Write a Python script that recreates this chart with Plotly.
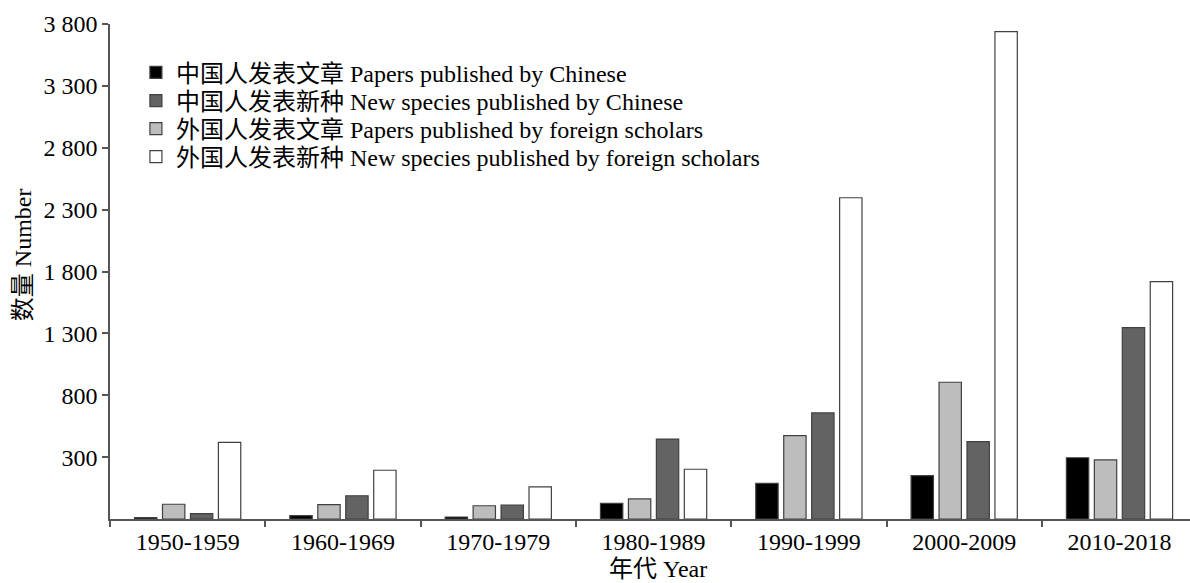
import plotly.graph_objects as go

# Data (bar heights above the axis baseline)
decades = ["1950-1959", "1960-1969", "1970-1979", "1980-1989", "1990-1999", "2000-2009", "2010-2018"]
cn_papers = [11, 27, 16, 127, 288, 350, 495]
foreign_papers = [119, 116, 107, 162, 673, 1105, 477]
cn_species = [43, 188, 113, 646, 857, 625, 1546]
foreign_species = [620, 394, 259, 402, 2596, 3938, 1918]

names = {
    "cn_papers": "中国人发表文章 Papers published by Chinese",
    "cn_species": "中国人发表新种 New species published by Chinese",
    "foreign_papers": "外国人发表文章 Papers published by foreign scholars",
    "foreign_species": "外国人发表新种 New species published by foreign scholars",
}

y_tickvals = [300, 800, 1300, 1800, 2300, 2800, 3300, 3800]
y_ticktext = ["300", "800", "1 300", "1 800", "2 300", "2 800", "3 300", "3 800"]
axis_base = -200

FONT = "Liberation Serif, Noto Sans CJK SC, serif"
FS = 24
LINE = "#555555"
OUT = "#404040"

series = [
    ("cn_papers", cn_papers, "#000000", "legend"),
    ("foreign_papers", foreign_papers, "#bdbdbd", "legend3"),
    ("cn_species", cn_species, "#636363", "legend2"),
    ("foreign_species", foreign_species, "#ffffff", "legend4"),
]

fig = go.Figure()
for key, vals, color, lg in series:
    fig.add_trace(go.Bar(
        x=decades, y=vals, base=axis_base, name=names[key],
        marker=dict(color=color, line=dict(color=OUT, width=1.2)),
        legend=lg,
    ))

leg_x = 0.024
leg_rows = {"legend": 0.9016, "legend2": 0.8444, "legend3": 0.7879, "legend4": 0.7313}
leg_common = dict(x=leg_x, xanchor="left", yanchor="middle", bgcolor="rgba(0,0,0,0)",
                  font=dict(family=FONT, size=FS, color="#000"))

fig.update_layout(
    width=1190, height=583,
    margin=dict(l=110, r=0, t=24, b=64),
    plot_bgcolor="white", paper_bgcolor="white",
    font=dict(family=FONT, size=FS, color="#000"),
    barmode="group", bargap=0.28, bargroupgap=0.2,
    showlegend=True,
    legend=dict(y=leg_rows["legend"], **leg_common),
    legend2=dict(y=leg_rows["legend2"], **leg_common),
    legend3=dict(y=leg_rows["legend3"], **leg_common),
    legend4=dict(y=leg_rows["legend4"], **leg_common),
    xaxis=dict(
        type="category", categoryorder="array", categoryarray=decades,
        range=[-0.5, 6.454],
        showline=True, linecolor=LINE, linewidth=1.5,
        ticks="outside", tickson="boundaries", ticklen=6, tickcolor=LINE, tickwidth=1.5,
        showgrid=False, tickfont=dict(family=FONT, size=FS, color="#000"),
    ),
    yaxis=dict(
        range=[-200, 3800],
        tickvals=y_tickvals, ticktext=y_ticktext,
        showline=True, linecolor=LINE, linewidth=1.5,
        ticks="outside", ticklen=6, tickcolor=LINE, tickwidth=1.5,
        showgrid=False, zeroline=False,
        tickfont=dict(family=FONT, size=FS, color="#000"),
    ),
    annotations=[
        dict(text="数量 Number", textangle=-90, xref="paper", yref="paper",
             x=-0.0806, y=0.535, xanchor="center", yanchor="middle", showarrow=False,
             font=dict(family=FONT, size=FS, color="#000")),
        dict(text="年代 Year", xref="paper", yref="paper",
             x=0.507, y=-0.102, xanchor="center", yanchor="middle", showarrow=False,
             font=dict(family=FONT, size=FS, color="#000")),
    ],
)

fig.write_html(
    "out.html",
    config={"displayModeBar": False},
    post_script="document.body.style.margin='0';document.body.style.overflow='hidden';",
)
